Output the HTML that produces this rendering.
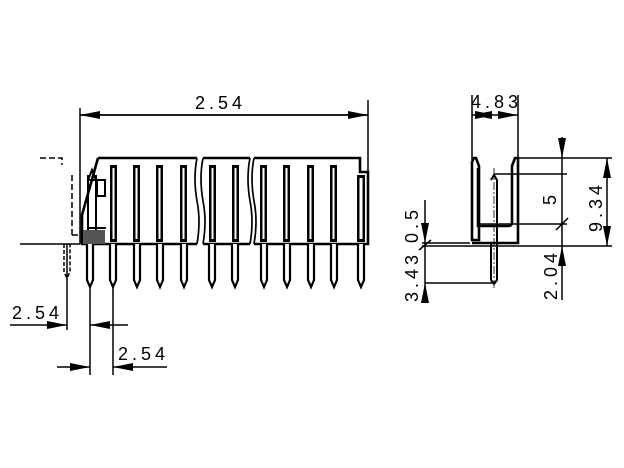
<!DOCTYPE html>
<html><head><style>body{margin:0;background:#fff}svg{display:block}text{font-family:"Liberation Sans",sans-serif;font-size:18px;fill:#000;letter-spacing:4px}</style></head><body>
<svg width="624" height="468" viewBox="0 0 624 468">
<defs><marker id="a" viewBox="0 0 20 8" refX="20" refY="4" markerWidth="20" markerHeight="8" markerUnits="userSpaceOnUse" orient="auto-start-reverse"><path d="M0,0L20,4L0,8z"/></marker></defs>
<g stroke="#000" fill="none" stroke-width="1.5">
<line x1="80" y1="115" x2="368" y2="115" marker-start="url(#a)" marker-end="url(#a)" stroke-width="1.8"/>
<line x1="80" y1="108" x2="80" y2="244"/><line x1="368" y1="100" x2="368" y2="172"/>
<path d="M98,158H197M203,158H250M254,158H360V172H368V244H254M250,244H203M197,244H82V215L98,158" stroke-width="2.6"/>
<path d="M197,158q-4,20 0,43q4,20 0,43M203,158q-4,20 0,43q4,20 0,43M250,158q-4,20 0,43q4,20 0,43M254,158q-4,20 0,43q4,20 0,43" stroke-width="1.7"/>
<path d="M40,158H62V165M72,175V235M72,235H82" stroke-dasharray="6,3"/>
<rect x="83" y="230" width="22" height="14" fill="#555" stroke="none"/>
<path d="M88,175V230M96,175V230M92,170l-4,10h8z M97,180h8v16h-8z M88,228h18" stroke-width="2"/>
<line x1="67" y1="244" x2="67" y2="330"/><line x1="90" y1="244" x2="90" y2="375"/><line x1="113" y1="244" x2="113" y2="375"/>
<line x1="10" y1="325" x2="67" y2="325" marker-end="url(#a)"/><line x1="128" y1="325" x2="90" y2="325" marker-end="url(#a)"/>
<line x1="57" y1="367" x2="90" y2="367" marker-end="url(#a)"/><line x1="167" y1="367" x2="113" y2="367" marker-end="url(#a)"/>
<line x1="20" y1="244" x2="80" y2="244"/>
<path d="M64,244V272l3,6l3,-6V244" stroke-dasharray="4,2"/>
</g>
<g fill="#000">
<rect x="110" y="165" width="7" height="77"/><rect x="133" y="165" width="7" height="77"/><rect x="156" y="165" width="7" height="77"/><rect x="180" y="165" width="7" height="77"/><rect x="209" y="165" width="7" height="77"/><rect x="232" y="165" width="7" height="77"/><rect x="260" y="165" width="7" height="77"/><rect x="283" y="165" width="7" height="77"/><rect x="307" y="165" width="7" height="77"/><rect x="330" y="165" width="7" height="77"/><rect x="357" y="175" width="8" height="67"/>
</g>
<g fill="#fff"><rect x="112.5" y="168" width="2" height="71"/><rect x="135.5" y="168" width="2" height="71"/><rect x="158.5" y="168" width="2" height="71"/><rect x="182.5" y="168" width="2" height="71"/><rect x="211.5" y="168" width="2" height="71"/><rect x="234.5" y="168" width="2" height="71"/><rect x="262.5" y="168" width="2" height="71"/><rect x="285.5" y="168" width="2" height="71"/><rect x="309.5" y="168" width="2" height="71"/><rect x="332.5" y="168" width="2" height="71"/><rect x="359.5" y="178" width="3" height="61"/></g>
<g stroke="#000" stroke-width="2.2" fill="#fff">
<path d="M87,244V280l3,7l3,-7V244M110,244V280l3,7l3,-7V244M134,244V280l3,7l3,-7V244M157,244V280l3,7l3,-7V244M181,244V280l3,7l3,-7V244M209,244V280l3,7l3,-7V244M232,244V280l3,7l3,-7V244M261,244V280l3,7l3,-7V244M284,244V280l3,7l3,-7V244M308,244V280l3,7l3,-7V244M331,244V280l3,7l3,-7V244M358,244V280l3,7l3,-7V244"/>
</g>
<text x="195" y="109">2.54</text><text x="12" y="319">2.54</text><text x="118" y="360">2.54</text>
<g stroke="#000" fill="none" stroke-width="1.5">
<line x1="472" y1="95" x2="472" y2="160"/><line x1="518" y1="95" x2="518" y2="158"/>
<line x1="472" y1="115" x2="495" y2="115" marker-start="url(#a)" marker-end="url(#a)"/><line x1="495" y1="115" x2="518" y2="115" marker-end="url(#a)"/>
<path d="M472,162l2,-4h2l3,8V240h-7z" stroke-width="2.6"/>
<path d="M478,168V226h30q4,0 4,-4V166l3,-8h3V243h-46" stroke-width="2.6"/>
<path d="M491,244V280l3,4l3,-4V244M491,180l3,-5l3,5V244" stroke-width="2"/>
<line x1="494" y1="168" x2="494" y2="290" stroke-dasharray="8,2,2,2" stroke-width="0.8"/>
<line x1="518" y1="158" x2="612" y2="158"/><line x1="494" y1="174" x2="567" y2="174"/><line x1="478" y1="224" x2="567" y2="224"/>
<line x1="422" y1="246" x2="612" y2="246"/><line x1="422" y1="243" x2="470" y2="243"/><line x1="425" y1="283" x2="494" y2="283"/>
<line x1="562" y1="137" x2="562" y2="158" marker-end="url(#a)"/><line x1="562" y1="158" x2="562" y2="246"/><line x1="562" y1="300" x2="562" y2="246" marker-end="url(#a)"/>
<line x1="607" y1="200" x2="607" y2="158" marker-end="url(#a)"/><line x1="607" y1="200" x2="607" y2="246" marker-end="url(#a)"/>
<line x1="425" y1="200" x2="425" y2="243" marker-end="url(#a)"/><line x1="425" y1="243" x2="425" y2="283"/><line x1="425" y1="300" x2="425" y2="283" marker-end="url(#a)"/>
<line x1="556" y1="230" x2="568" y2="218"/><line x1="419" y1="250" x2="431" y2="240"/>
</g>
<text x="471" y="108">4.83</text>
<text transform="translate(556,205) rotate(-90)">5</text>
<text transform="translate(602,232) rotate(-90)">9.34</text>
<text transform="translate(557,300) rotate(-90)">2.04</text>
<text transform="translate(418,302) rotate(-90)">3.43</text>
<text transform="translate(418,243) rotate(-90)">0.5</text>
</svg>
</body></html>
